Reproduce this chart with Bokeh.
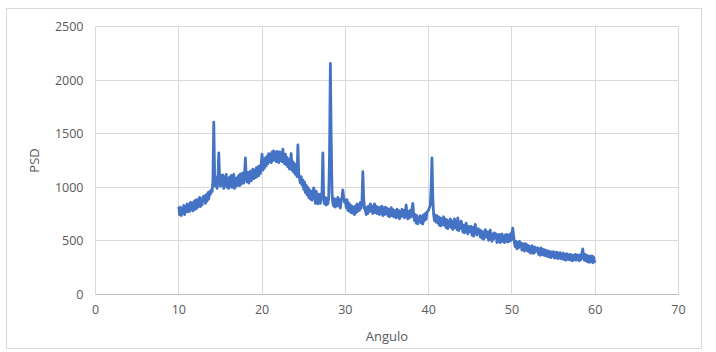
from bokeh.plotting import figure
from bokeh.models import FixedTicker, Range1d
from bokeh.embed import file_html
from bokeh.resources import INLINE

# Angles 10.0 .. 60.0 in 0.1 degree steps (one row per degree)
start_angle = 10.0
step = 0.1

psd_rows = [
    [820, 745, 815, 735, 800, 760, 830, 745, 825, 770],            # 10
    [845, 770, 835, 775, 860, 790, 850, 780, 865, 795],            # 11
    [880, 800, 885, 815, 870, 905, 820, 885, 835, 910],            # 12
    [880, 920, 850, 930, 870, 950, 890, 960, 935, 975],            # 13
    [960, 1060, 1608, 1130, 1010, 1090, 990, 1080, 1320, 1100],    # 14
    [1010, 1110, 1020, 1115, 990, 1095, 1015, 1120, 1000, 1080],   # 15
    [990, 1095, 1010, 1110, 1000, 1085, 1120, 990, 1080, 1010],    # 16
    [1090, 1020, 1110, 1015, 1125, 1030, 1100, 1135, 1040, 1110],  # 17
    [1275, 1080, 1050, 1140, 1040, 1120, 1150, 1060, 1140, 1170],  # 18
    [1080, 1160, 1090, 1180, 1100, 1190, 1110, 1200, 1130, 1220],  # 19
    [1310, 1160, 1260, 1180, 1275, 1200, 1290, 1220, 1315, 1240],  # 20
    [1310, 1230, 1330, 1250, 1340, 1255, 1325, 1240, 1335, 1255],  # 21
    [1230, 1330, 1250, 1325, 1240, 1355, 1260, 1220, 1310, 1210],  # 22
    [1280, 1190, 1260, 1170, 1250, 1315, 1160, 1240, 1140, 1220],  # 23
    [1120, 1190, 1100, 1395, 1130, 1080, 1040, 1100, 1020, 1070],  # 24
    [980, 1050, 950, 1020, 930, 1000, 905, 975, 890, 965],         # 25
    [880, 955, 995, 935, 850, 965, 870, 845, 935, 860],            # 26
    [850, 925, 960, 1320, 880, 845, 905, 835, 895, 845],           # 27
    [900, 1300, 2155, 1450, 950, 850, 825, 895, 815, 885],         # 28
    [830, 905, 825, 885, 805, 875, 910, 975, 900, 860],            # 29
    [880, 810, 885, 785, 855, 775, 835, 765, 825, 760],            # 30
    [815, 745, 825, 765, 845, 775, 835, 785, 860, 805],            # 31
    [880, 1145, 900, 800, 790, 745, 815, 755, 825, 775],           # 32
    [845, 775, 825, 755, 815, 845, 765, 825, 755, 815],            # 33
    [805, 745, 815, 755, 825, 735, 805, 745, 815, 755],            # 34
    [805, 735, 795, 725, 785, 810, 735, 795, 725, 785],            # 35
    [775, 715, 795, 725, 785, 705, 775, 725, 795, 735],            # 36
    [785, 715, 775, 835, 735, 705, 775, 715, 785, 725],            # 37
    [795, 850, 745, 690, 745, 665, 735, 660, 715, 680],            # 38
    [735, 665, 725, 660, 745, 690, 755, 700, 770, 775],            # 39
    [790, 810, 830, 1000, 1275, 900, 745, 690, 740, 675],          # 40
    [735, 665, 725, 645, 715, 640, 705, 655, 725, 645],            # 41
    [705, 625, 695, 615, 685, 635, 705, 625, 685, 605],            # 42
    [675, 705, 625, 685, 605, 715, 595, 675, 615, 685],            # 43
    [655, 585, 645, 575, 635, 665, 595, 565, 635, 585],            # 44
    [600, 635, 555, 625, 545, 615, 655, 575, 555, 615],            # 45
    [575, 605, 535, 595, 525, 585, 515, 575, 605, 535],            # 46
    [555, 585, 505, 575, 600, 525, 495, 565, 515, 575],            # 47
    [535, 565, 485, 555, 495, 560, 485, 545, 565, 495],            # 48
    [545, 485, 555, 495, 560, 490, 550, 495, 565, 505],            # 49
    [570, 620, 550, 480, 445, 495, 425, 485, 435, 495],            # 50
    [455, 480, 415, 475, 435, 405, 475, 415, 465, 405],            # 51
    [455, 395, 445, 385, 455, 405, 385, 445, 395, 435],            # 52
    [415, 435, 375, 425, 365, 435, 385, 370, 420, 365],            # 53
    [415, 360, 410, 355, 405, 350, 400, 345, 395, 355],            # 54
    [400, 340, 390, 345, 395, 335, 385, 340, 390, 335],            # 55
    [380, 330, 385, 325, 375, 320, 380, 330, 370, 325],            # 56
    [375, 320, 370, 315, 365, 325, 375, 320, 370, 325],            # 57
    [365, 315, 370, 325, 380, 425, 365, 320, 375, 315],            # 58
    [365, 305, 360, 300, 355, 310, 360, 295, 350, 305],            # 59
    [320],                                                         # 60
]

psd = [v for row in psd_rows for v in row]
angle = [round(start_angle + i * step, 1) for i in range(len(psd))]

x_ticks = [0, 10, 20, 30, 40, 50, 60, 70]
y_ticks = [0, 500, 1000, 1500, 2000, 2500]

TEXT = "#595959"
GRID = "#D9D9D9"
FONT = "Open Sans"

p = figure(width=696, height=341, output_backend="svg", toolbar_location=None,
           x_range=Range1d(0, 70), y_range=Range1d(0, 2500),
           min_border_left=88, min_border_right=25, min_border_top=17, min_border_bottom=56)
p.margin = (8, 0, 0, 6)
p.styles = {"border": "1px solid #D9D9D9"}

p.line(angle, psd, line_color="#4472C4", line_width=2.8, line_join="round")

p.outline_line_color = GRID
p.background_fill_color = "white"
p.border_fill_color = "white"

p.xaxis.ticker = FixedTicker(ticks=x_ticks)
p.yaxis.ticker = FixedTicker(ticks=y_ticks)
p.xgrid.ticker = FixedTicker(ticks=x_ticks)
p.ygrid.ticker = FixedTicker(ticks=y_ticks)
p.grid.grid_line_color = GRID
p.grid.grid_line_width = 1

for ax in (p.xaxis[0], p.yaxis[0]):
    ax.major_tick_line_color = None
    ax.minor_tick_line_color = None
    ax.major_tick_out = 0
    ax.major_tick_in = 0
    ax.major_label_text_color = TEXT
    ax.major_label_text_font = FONT
    ax.major_label_text_font_size = "12.5px"
    ax.axis_label_text_color = TEXT
    ax.axis_label_text_font = FONT
    ax.axis_label_text_font_size = "13px"
    ax.axis_label_text_font_style = "normal"

p.xaxis.axis_line_color = "#BFBFBF"
p.yaxis.axis_line_color = None
p.xaxis.axis_label = "Angulo"
p.yaxis.axis_label = "PSD"
p.xaxis.major_label_standoff = 10
p.yaxis.major_label_standoff = 12
p.xaxis.axis_label_standoff = 10
p.yaxis.axis_label_standoff = 9

open("out.html", "w").write(file_html(p, INLINE))
